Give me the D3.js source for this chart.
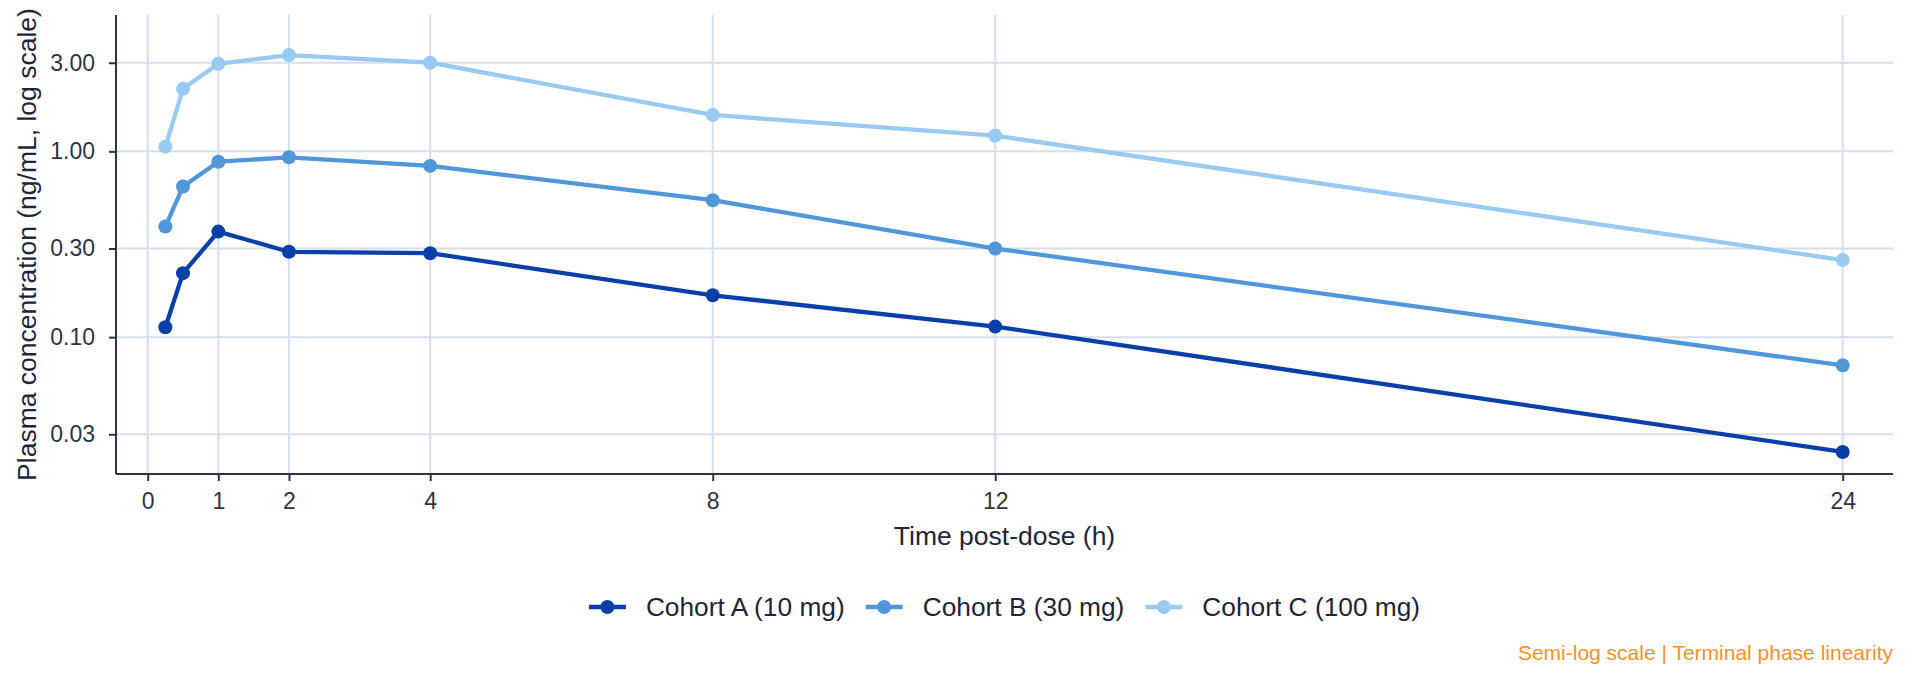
<!DOCTYPE html>
<html>
<head>
<meta charset="utf-8">
<script src="https://cdn.jsdelivr.net/npm/d3@7"></script>
<style>
  html, body { margin: 0; padding: 0; background: #ffffff; }
  svg { display: block; font-family: "Liberation Sans", Arial, Helvetica, sans-serif; }
</style>
</head>
<body>
<svg id="chart" width="1920" height="691"></svg>
<script>
// ---- data ----
const times = [0.25, 0.5, 1, 2, 4, 8, 12, 24];
const cohortA = [0.113, 0.221, 0.37, 0.288, 0.283, 0.168, 0.114, 0.0241];
const cohortB = [0.394, 0.647, 0.88, 0.929, 0.835, 0.546, 0.30, 0.0705];
const cohortC = [1.06, 2.17, 2.96, 3.30, 3.00, 1.57, 1.215, 0.26];
const seriesNames = ["Cohort A (10 mg)", "Cohort B (30 mg)", "Cohort C (100 mg)"];
const seriesColors = ["#0a3fa8", "#4f97d9", "#99caf2"];
const xTicks = [0, 1, 2, 4, 8, 12, 24];
const yTicks = [0.03, 0.1, 0.3, 1, 3];
const yTickLabels = ["0.03", "0.10", "0.30", "1.00", "3.00"];
const xTitle = "Time post-dose (h)";
const yTitle = "Plasma concentration (ng/mL, log scale)";
const caption = "Semi-log scale | Terminal phase linearity";

(function () {
const series = [cohortA, cohortB, cohortC].map((vals, i) => ({
  name: seriesNames[i], color: seriesColors[i],
  points: times.map((t, j) => ({ t, v: vals[j] }))
}));

// ---- layout ----
const svg = d3.select("#chart");
const pL = 116, pR = 1893, pT = 15, pB = 474;
const textColor = "#2d3444";
const gridColor = "#d6dfeb";

const x = d3.scaleLinear().domain([-0.449, 24.712]).range([pL, pR]);
const y = d3.scaleLog().domain([0.01834, 5.42]).range([pB, pT]);

// grid
const g = svg.append("g");
g.selectAll(".hgrid").data(yTicks).join("line")
  .attr("x1", pL).attr("x2", pR)
  .attr("y1", d => y(d)).attr("y2", d => y(d))
  .attr("stroke", gridColor).attr("stroke-width", 2);
g.selectAll(".vgrid").data(xTicks).join("line")
  .attr("x1", d => x(d)).attr("x2", d => x(d))
  .attr("y1", pT).attr("y2", pB)
  .attr("stroke", gridColor).attr("stroke-width", 2);

// axes
const xAxis = d3.axisBottom(x).tickValues(xTicks).tickSize(7).tickPadding(12).tickFormat(d3.format("d"));
const yAxis = d3.axisLeft(y).tickValues(yTicks).tickSize(7).tickPadding(14)
  .tickFormat((d, i) => yTickLabels[i]);

const gx = svg.append("g").attr("transform", `translate(0,${pB})`).call(xAxis);
const gy = svg.append("g").attr("transform", `translate(${pL},0)`).call(yAxis);
[gx, gy].forEach(a => {
  a.select(".domain").remove();
  a.selectAll(".tick line").attr("stroke", textColor).attr("stroke-width", 2);
  a.selectAll(".tick text").attr("fill", textColor).style("font-size", "23px")
    .style("font-family", "'Liberation Sans', Arial, sans-serif");
});
svg.append("line").attr("x1", pL).attr("x2", pR).attr("y1", pB).attr("y2", pB)
  .attr("stroke", textColor).attr("stroke-width", 2);
svg.append("line").attr("x1", pL).attr("x2", pL).attr("y1", pT).attr("y2", pB)
  .attr("stroke", textColor).attr("stroke-width", 2);

// lines and points
const line = d3.line().x(d => x(d.t)).y(d => y(d.v));
const sg = svg.append("g");
series.forEach(s => {
  sg.append("path").datum(s.points).attr("d", line)
    .attr("fill", "none").attr("stroke", s.color).attr("stroke-width", 4.3)
    .attr("stroke-linejoin", "round");
  sg.selectAll(null).data(s.points).join("circle")
    .attr("cx", d => x(d.t)).attr("cy", d => y(d.v)).attr("r", 7)
    .attr("fill", s.color);
});

// axis titles
svg.append("text").attr("x", (pL + pR) / 2).attr("y", 545)
  .attr("text-anchor", "middle").attr("fill", "#1e2538")
  .style("font-size", "26.5px").text(xTitle);
svg.append("text").attr("transform", `translate(36,${(pT + pB) / 2}) rotate(-90)`)
  .attr("text-anchor", "middle").attr("fill", "#1e2538")
  .style("font-size", "26.5px").text(yTitle);

// legend
const legend = svg.append("g");
const legendY = 607;
const keyW = 37, keyGap = 20, itemGap = 21;
let lx = 0;
series.forEach(s => {
  const it = legend.append("g").attr("transform", `translate(${lx},${legendY})`);
  it.append("line").attr("x1", 0).attr("x2", keyW).attr("y1", 0).attr("y2", 0)
    .attr("stroke", s.color).attr("stroke-width", 4.3);
  it.append("circle").attr("cx", keyW / 2).attr("cy", 0).attr("r", 7).attr("fill", s.color);
  const t = it.append("text").attr("x", keyW + keyGap).attr("y", 9)
    .attr("fill", "#1e2538").style("font-size", "26.3px").text(s.name);
  const w = t.node().getComputedTextLength();
  lx += keyW + keyGap + w + itemGap;
});
const totalW = lx - itemGap;
legend.attr("transform", `translate(${(pL + pR) / 2 - totalW / 2},0)`);

// caption
svg.append("text").attr("x", pR).attr("y", 660).attr("text-anchor", "end")
  .attr("fill", "#f7921e").style("font-size", "21px").text(caption);
})();
</script>
</body>
</html>
